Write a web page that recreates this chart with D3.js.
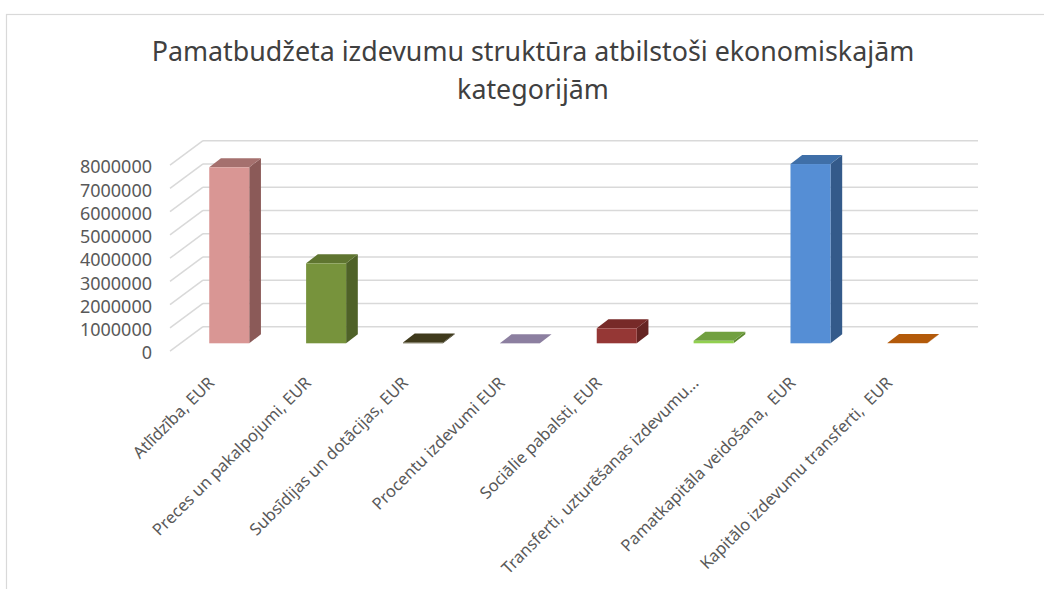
<!DOCTYPE html>
<html>
<head>
<meta charset="utf-8">
<script src="https://cdn.jsdelivr.net/npm/d3@7"></script>
<style>
  body { margin: 0; background: #fff; }
  text { font-family: "Noto Sans", sans-serif; fill: #595959; }
</style>
</head>
<body>
<svg id="chart"></svg>
<script>
const titleLines = ['Pamatbudžeta izdevumu struktūra atbilstoši ekonomiskajām', 'kategorijām'];
const categories = [
  'Atlīdzība, EUR',
  'Preces un pakalpojumi, EUR',
  'Subsīdijas un dotācijas, EUR',
  'Procentu izdevumi EUR',
  'Sociālie pabalsti, EUR',
  'Transferti, uzturēšanas izdevumu...',
  'Pamatkapitāla veidošana,  EUR',
  'Kapitālo izdevumu transferti,  EUR'
];
const values = [7570000, 3440000, 30000, 5000, 645000, 110000, 7710000, 10000];
const yTicks = [0, 1000000, 2000000, 3000000, 4000000, 5000000, 6000000, 7000000, 8000000];
// front / top / side colours per bar
const frontColors = ['#d99694', '#77933c', '#4a4424', '#8e82a8', '#953735', '#92d050', '#558ed5', '#c0620e'];
const topColors   = ['#a5706e', '#5f7530', '#3f3a1c', '#8c7fa0', '#772a28', '#71a040', '#3f6fa8', '#b35a0a'];
const sideColors  = ['#8b5a58', '#4f6228', '#2e2a14', '#6e6288', '#652422', '#5e8a30', '#345a8a', '#8f4506'];

const W = 1044, H = 589;
const svg = d3.select('#chart').attr('width', W).attr('height', H);

// chart border (extends past the right and bottom edges)
svg.append('rect')
    .attr('x', 6.5).attr('y', 14.5)
    .attr('width', W + 10).attr('height', H + 10)
    .attr('fill', 'none')
    .attr('stroke', '#d9d9d9')
    .attr('stroke-width', 1.2);

// title
svg.append('text')
    .attr('x', 533).attr('y', 61)
    .attr('text-anchor', 'middle')
    .style('font-size', '26.8px')
    .style('fill', '#404040')
    .selectAll('tspan')
    .data(titleLines)
  .join('tspan')
    .attr('x', 533)
    .attr('dy', (d, i) => i === 0 ? 0 : 38)
    .text(d => d);

// back wall scales
const x = d3.scaleBand()
    .domain(categories)
    .range([203, 978])
    .paddingInner(0)
    .paddingOuter(0);

const y = d3.scaleLinear()
    .domain([0, 8000000])
    .range([326.7, 140.7]);

// oblique depth offsets
const wallDx = -33, wallDy = 24.5;     // front edge of the side wall
const barFrontDx = -22.2, barFrontDy = 16.6;
const barBackDx = -10.5, barBackDy = 7.6;
const barW = 40;

// gridlines on back wall + side wall
const grid = svg.append('g').attr('class', 'grid');
grid.selectAll('.hline')
    .data(yTicks)
  .join('line')
    .attr('class', 'hline')
    .attr('x1', 203).attr('x2', 978)
    .attr('y1', d => y(d)).attr('y2', d => y(d))
    .attr('stroke', '#d9d9d9').attr('stroke-width', 1.5);
grid.selectAll('.dline')
    .data(yTicks)
  .join('line')
    .attr('class', 'dline')
    .attr('x1', 203).attr('x2', 203 + wallDx)
    .attr('y1', d => y(d)).attr('y2', d => y(d) + wallDy)
    .attr('stroke', '#d9d9d9').attr('stroke-width', 1.5);

// y axis labels, placed at the front edge of the side wall
const yAxis = d3.axisLeft(y)
    .tickValues(yTicks)
    .tickFormat(d3.format('d'))
    .tickSize(0)
    .tickPadding(0);
svg.append('g')
    .attr('transform', `translate(${203 + wallDx - 18},${wallDy + 2})`)
    .call(yAxis)
    .call(g => g.select('.domain').remove())
    .call(g => g.selectAll('text')
        .style('font-size', '18px')
        .style('fill', '#595959')
        .style('font-family', '"Noto Sans", sans-serif'));

// bars
const bars = svg.append('g').attr('class', 'bars');
const data = categories.map((c, i) => ({ cat: c, value: values[i], i }));

bars.selectAll('g.bar')
    .data(data)
  .join('g')
    .attr('class', 'bar')
    .each(function (d) {
      const g = d3.select(this);
      const cx = x(d.cat) + x.bandwidth() / 2;
      const fx0 = cx - barW / 2 + barFrontDx, fx1 = cx + barW / 2 + barFrontDx;
      const fyTop = y(d.value) + barFrontDy, fyBot = y(0) + barFrontDy;
      const bx1 = cx + barW / 2 + barBackDx, bx0 = cx - barW / 2 + barBackDx;
      const byTop = y(d.value) + barBackDy, byBot = y(0) + barBackDy;

      // side face
      g.append('path')
          .attr('d', `M${fx1},${fyTop}L${bx1},${byTop}L${bx1},${byBot}L${fx1},${fyBot}Z`)
          .attr('fill', sideColors[d.i]);
      // top face
      g.append('path')
          .attr('d', `M${fx0},${fyTop}L${bx0},${byTop}L${bx1},${byTop}L${fx1},${fyTop}Z`)
          .attr('fill', topColors[d.i]);
      // front face
      g.append('rect')
          .attr('x', fx0).attr('y', fyTop)
          .attr('width', barW).attr('height', Math.max(0, fyBot - fyTop))
          .attr('fill', frontColors[d.i]);
    });

// category labels, rotated
svg.append('g')
    .selectAll('text')
    .data(categories)
  .join('text')
    .attr('text-anchor', 'end')
    .style('font-size', '16.5px')
    .style('white-space', 'pre')
    .attr('transform', d => {
      const px = x(d) + x.bandwidth() / 2 + barFrontDx - 14;
      return `translate(${px},${384}) rotate(-45)`;
    })
    .text(d => d);
</script>
</body>
</html>
